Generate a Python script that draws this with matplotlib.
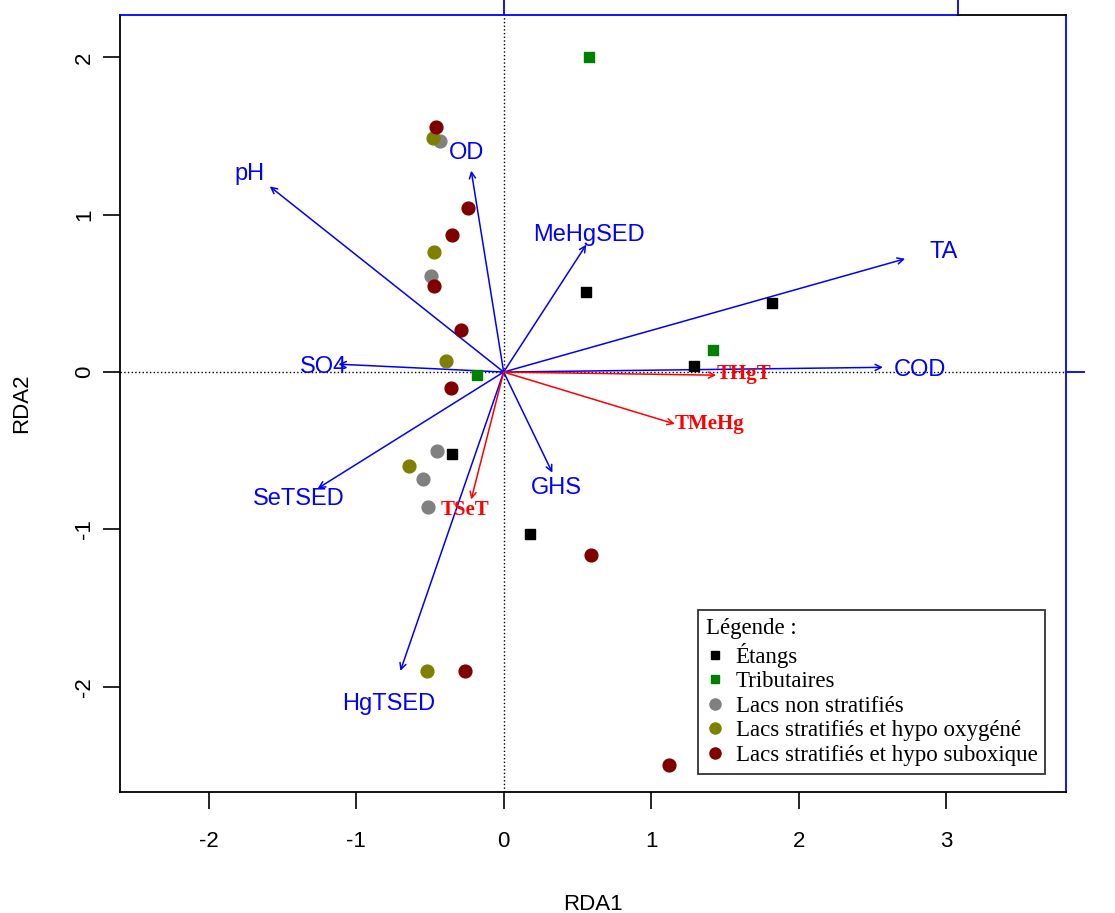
import numpy as np
import matplotlib
matplotlib.use("Agg")
import matplotlib.pyplot as plt
from matplotlib.lines import Line2D

# site scores, by group
etangs_x = [0.56, 1.82, 1.29, -0.35, 0.18]
etangs_y = [0.51, 0.44, 0.04, -0.52, -1.03]
trib_x = [0.58, 1.42, -0.18]
trib_y = [2.00, 0.14, -0.02]
nonstrat_x = [-0.43, -0.49, -0.45, -0.55, -0.51]
nonstrat_y = [1.47, 0.61, -0.50, -0.68, -0.86]
oxy_x = [-0.48, -0.47, -0.39, -0.64, -0.52]
oxy_y = [1.49, 0.76, 0.07, -0.60, -1.90]
subox_x = [-0.46, -0.24, -0.35, -0.47, -0.29, -0.36, 0.59, -0.26, 1.12]
subox_y = [1.56, 1.04, 0.87, 0.55, 0.27, -0.10, -1.16, -1.90, -2.50]

# explanatory variables (blue arrows)
env_names = ["pH", "OD", "MeHgSED", "TA", "COD", "SO4", "SeTSED", "HgTSED", "GHS"]
env_x = [-1.585, -0.22, 0.56, 2.72, 2.57, -1.12, -1.26, -0.70, 0.33]
env_y = [1.18, 1.28, 0.81, 0.72, 0.03, 0.05, -0.74, -1.90, -0.64]
# label positions beside the tips
env_lx = [-1.72, -0.25, 0.58, 2.98, 2.82, -1.22, -1.39, -0.78, 0.36]
env_ly = [1.26, 1.39, 0.87, 0.76, 0.01, 0.03, -0.81, -2.11, -0.74]

# response variables (red arrows)
resp_names = ["THgT", "TMeHg", "TSeT"]
resp_x = [1.44, 1.16, -0.22]
resp_y = [-0.02, -0.33, -0.81]
resp_lx = [1.44, 1.16, -0.43]
resp_ly = [-0.01, -0.33, -0.88]

legend_labels = ["Étangs", "Tributaires", "Lacs non stratifiés",
                 "Lacs stratifiés et hypo oxygéné", "Lacs stratifiés et hypo suboxique"]

fig = plt.figure(figsize=(11.15, 9.13), dpi=100)
ax = fig.add_axes([0.1076, 0.1325, 0.8484, 0.8511])
ax.set_xlim(-2.60, 3.81)
ax.set_ylim(-2.67, 2.27)

ax.axhline(0, color="black", ls=":", lw=1, zorder=1)
ax.axvline(0, color="black", ls=":", lw=1, zorder=1)

for ex, ey, nm, lx, ly in zip(env_x, env_y, env_names, env_lx, env_ly):
    ax.annotate("", xy=(ex, ey), xytext=(0, 0),
                arrowprops=dict(arrowstyle="->", color="blue", lw=1.1,
                                mutation_scale=11, shrinkA=0, shrinkB=0), zorder=3)
    ax.text(lx, ly, nm, color="blue", fontsize=17, ha="center", va="center",
            family="Liberation Sans", zorder=4)

for rx, ry, nm, lx, ly in zip(resp_x, resp_y, resp_names, resp_lx, resp_ly):
    ax.annotate("", xy=(rx, ry), xytext=(0, 0),
                arrowprops=dict(arrowstyle="->", color="red", lw=1.1,
                                mutation_scale=11, shrinkA=0, shrinkB=0), zorder=3)
    ax.text(lx, ly, nm, color="red", fontsize=15, ha="left", va="center",
            family="Liberation Serif", fontweight="bold", zorder=4)

ax.scatter(etangs_x, etangs_y, marker="s", s=50, color="black", zorder=5)
ax.scatter(trib_x, trib_y, marker="s", s=50, color="green", zorder=5)
ax.scatter(nonstrat_x, nonstrat_y, marker="o", s=85, color="grey", zorder=5)
ax.scatter(oxy_x, oxy_y, marker="o", s=85, color="#808000", zorder=5)
ax.scatter(subox_x, subox_y, marker="o", s=85, color="#800000", zorder=5)

# axes styling, R-like
ax.set_xticks([-2, -1, 0, 1, 2, 3])
ax.set_xticklabels(["-2", "-1", "0", "1", "2", "3"])
ax.set_yticks([-2, -1, 0, 1, 2])
ax.set_yticklabels(["-2", "-1", "0", "1", "2"], rotation=90, va="center")
ax.tick_params(length=12, width=1.2, labelsize=16, pad=16)
ax.tick_params(axis="y", pad=6)
for lab in ax.get_xticklabels() + ax.get_yticklabels():
    lab.set_family("Liberation Sans")
ax.set_xlabel("RDA1", fontsize=16, family="Liberation Sans", labelpad=30)
ax.set_ylabel("RDA2", fontsize=16, family="Liberation Sans", labelpad=30)

for sp in ["left", "bottom"]:
    ax.spines[sp].set_linewidth(1.3)
ax.spines["right"].set_color("blue")
ax.spines["right"].set_linewidth(1.3)
ax.spines["top"].set_color("blue")
ax.spines["top"].set_linewidth(1.3)
top_end = 3.076
ax.spines["top"].set_bounds(-2.60, top_end)
ax.plot([top_end, 3.81], [2.27, 2.27], color="black", lw=1.3, clip_on=False, zorder=6)

# secondary (arrow) scale axes
sec_top = ax.secondary_xaxis("top")
sec_top.set_xticks([0, top_end])
sec_top.set_xticklabels(["", ""])
sec_top.tick_params(colors="blue", length=15, width=1.3)
sec_top.spines["top"].set_visible(False)
sec_right = ax.secondary_yaxis("right")
sec_right.set_yticks([0])
sec_right.set_yticklabels(["0"], rotation=-90, va="center")
sec_right.tick_params(colors="blue", length=14, width=1.3, labelsize=16, pad=26)
sec_right.spines["right"].set_visible(False)
for lab in sec_right.get_yticklabels():
    lab.set_color("#333333")

handles = [
    Line2D([], [], marker="s", ls="", color="black", markersize=6),
    Line2D([], [], marker="s", ls="", color="green", markersize=6),
    Line2D([], [], marker="o", ls="", color="grey", markersize=8),
    Line2D([], [], marker="o", ls="", color="#808000", markersize=8),
    Line2D([], [], marker="o", ls="", color="#800000", markersize=8),
]
leg = ax.legend(handles, legend_labels, title="Légende :", loc="lower right",
                bbox_to_anchor=(0.9905, 0.009), frameon=True, fancybox=False,
                edgecolor="black", handlelength=0.8, handletextpad=0.5,
                borderpad=0.35, labelspacing=0.15,
                prop={"family": "Liberation Serif", "size": 16.5},
                title_fontproperties={"family": "Liberation Serif", "size": 16.5},
                alignment="left")
leg.get_frame().set_linewidth(1.3)
leg.set_zorder(7)

fig.savefig("out.png", dpi=100)
